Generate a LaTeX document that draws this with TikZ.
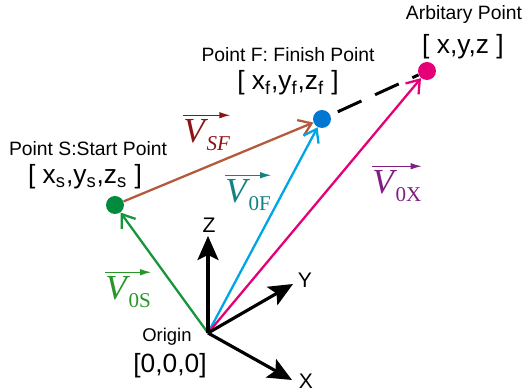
\documentclass[tikz,border=0pt]{standalone}
\usepackage{fontspec}
\setmainfont{Liberation Sans}
\newfontfamily\vecfont{Liberation Serif}
\usetikzlibrary{calc}
\usetikzlibrary{arrows.meta}
\definecolor{vgreen}{RGB}{20,150,60}
\definecolor{vbrown}{RGB}{180,90,60}
\definecolor{vblue}{RGB}{0,165,230}
\definecolor{vpink}{RGB}{230,0,120}
\definecolor{dgreen}{RGB}{0,140,60}
\definecolor{dblue}{RGB}{0,120,210}
\definecolor{tsf}{RGB}{140,20,20}
\definecolor{tof}{RGB}{20,130,130}
\definecolor{tox}{RGB}{130,30,130}
\definecolor{tos}{RGB}{40,150,40}
\newcommand{\veclab}[1]{{\fontsize{20}{20}\selectfont\vecfont\itshape V}\kern1pt\raisebox{-4.5pt}{\fontsize{12}{12}\selectfont\vecfont #1}}

\begin{document}
\begin{tikzpicture}[x=0.02cm, y=-0.02cm,
    dot/.style={
            circle,
            inner sep=0pt,
            minimum size=0.36cm
        },
        vec/.style={
            line width=1.3pt,
            -{Straight Barb[length=2.4mm,width=3.4mm]}
        },
        axis/.style={
            line width=1.8pt,
            -{Stealth[length=4.8mm,width=4.2mm,inset=1mm]}
        },
        ovarrow/.style={line width=0.7pt, -{Latex[length=2.2mm,width=1.3mm]}},
        ptlbl/.style={font=\fontsize{11}{13}\selectfont, inner sep=0pt},
        crdlbl/.style={font=\fontsize{15}{17}\selectfont, inner sep=0pt},
        orglbl/.style={font=\fontsize{10.5}{12}\selectfont, inner sep=0pt},
        axlbl/.style={font=\fontsize{12}{14}\selectfont, inner sep=0pt},
        veclbl/.style={inner sep=0pt}
]
    \useasboundingbox (0,0) rectangle (522,391);

    \coordinate (origin) at (208,333);
    \node [dot, fill=dgreen] (ptS) at (115,205) {};
    \node [dot, fill=dblue] (ptF) at (322,119) {};
    \node [dot, fill=vpink] (ptA) at (427,71) {};

    % vectors
    \draw [vec, vgreen] (origin) -- (ptS);
    \draw [vec, vbrown] (ptS) -- (ptF);
    \draw [vec, vblue] (origin) -- (ptF);
    \draw [vec, vpink] (origin) -- (ptA);
    \draw [line width=1.7pt, dash pattern=on 0.52cm off 0.3cm, dash phase=0.66cm] (ptF) -- (ptA);

    % axes
    \coordinate (zTip) at (208,236);
    \coordinate (yTip) at (293,284);
    \coordinate (xTip) at (292,380);
    \draw [axis] (origin) -- (zTip);
    \draw [axis] (origin) -- (yTip);
    \draw [axis] (origin) -- (xTip);
    \node [axlbl] (lblZ) at (209,225) {Z};
    \node [axlbl] (lblY) at (305,280) {Y};
    \node [axlbl] (lblX) at (306,381) {X};

    \node [ptlbl] (lblS) at (88,149) {Point S:Start Point};
    \node [crdlbl] (crdS) at (85,177) {[ x\textsubscript{s},y\textsubscript{s},z\textsubscript{s} ]};
    \node [ptlbl] (lblF) at (288,55) {Point F: Finish Point};
    \node [crdlbl] (crdF) at (288,83) {[ x\textsubscript{f},y\textsubscript{f},z\textsubscript{f} ]};
    \node [ptlbl] (lblA) at (464,15) {Arbitary Point};
    \node [crdlbl] (crdA) at (463,47) {[ x,y,z ]};
    \node [orglbl] (lblO) at (167,337) {Origin};
    \node [crdlbl] (crdO) at (170,366) {[0,0,0]};

    % vector names
    \node [veclbl, tsf, anchor=base west] (vsf) at (183,143) {\veclab{\itshape SF}};
    \node [veclbl, tof, anchor=base west] (v0f) at (225,203) {\veclab{0F}};
    \node [veclbl, tox, anchor=base west] (v0x) at (372,194) {\veclab{0X}};
    \node [veclbl, tos, anchor=base west] (v0s) at (105,300) {\veclab{0S}};
    \draw [ovarrow, tsf] ([yshift=2.5pt]vsf.north west) -- ([yshift=2.5pt]vsf.north east);
    \draw [ovarrow, tof] ([yshift=2.5pt]v0f.north west) -- ([yshift=2.5pt]v0f.north east);
    \draw [ovarrow, tox] ([yshift=2.5pt]v0x.north west) -- ([yshift=2.5pt]v0x.north east);
    \draw [ovarrow, tos] ([yshift=2.5pt]v0s.north west) -- ([yshift=2.5pt]v0s.north east);
\end{tikzpicture}
\end{document}
